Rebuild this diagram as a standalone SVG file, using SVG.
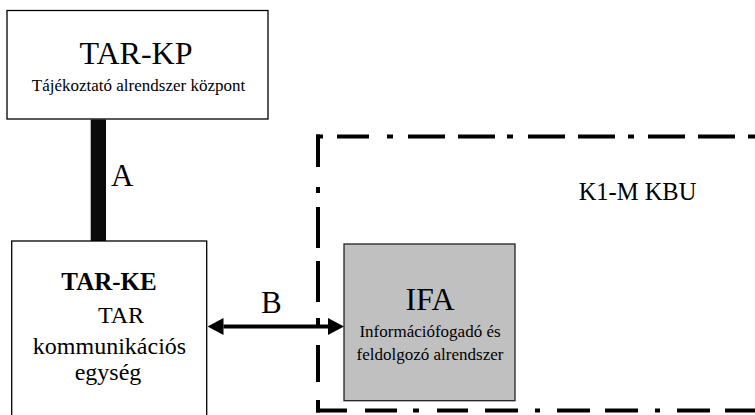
<svg xmlns="http://www.w3.org/2000/svg" width="755" height="415" viewBox="0 0 755 415">
  <style>
    .box { fill: #ffffff; stroke: #000000; stroke-width: 1.3; }
    .gbox { fill: #c0c0c0; stroke: #222222; stroke-width: 1.3; }
    text { font-family: 'Liberation Serif', 'DejaVu Serif', 'Times New Roman', Times, serif; fill: #000000; }
    .mid { text-anchor: middle; }
    .border { fill: none; stroke: #000000; stroke-width: 4; stroke-linecap: butt; }
  </style>
  <defs>
    <marker id="ah" markerUnits="userSpaceOnUse" markerWidth="16" markerHeight="17" refX="0" refY="8.5" orient="auto-start-reverse" viewBox="0 0 16 17">
      <path d="M0,0 L16,8.5 L0,17 Z" fill="#000000"/>
    </marker>
  </defs>
  <rect width="755" height="415" fill="#ffffff"/>

  <g id="node-k1m-kbu">
    <path class="border" d="M316,136.5 H323 M337,136.5 H369 M387,136.5 H393 M408,136.5 H445 M458,136.5 H495 M507,136.5 H513 M528,136.5 H565 M578,136.5 H615 M628,136.5 H634 M648,136.5 H685 M698,136.5 H735 M748,136.5 H755"/>
    <path class="border" d="M318,134.5 V167 M318,187 V193 M318,207 V248 M318,261 V302 M318,318 V325 M318,345 V382 M318,400 V412.5"/>
    <path class="border" d="M316,410.5 H347 M365,410.5 H397 M413,410.5 H419 M437,410.5 H468 M485,410.5 H518 M535,410.5 H540 M557,410.5 H590 M605,410.5 H638 M655,410.5 H660 M677,410.5 H710 M725,410.5 H755"/>
    <text class="mid" x="637.5" y="200" font-size="24.5" font-family="Liberation Serif, serif">K1-M KBU</text>
  </g>

  <g id="connectors">
    <rect id="conn-A" x="90.7" y="119.5" width="15.3" height="121.5" fill="#0a0a0a"/>
    <text x="111" y="186" font-size="31" font-family="Liberation Serif, serif">A</text>
    <line id="conn-B" x1="223.5" y1="326.5" x2="328" y2="326.5" stroke="#000000" stroke-width="4" marker-start="url(#ah)" marker-end="url(#ah)"/>
    <text x="261" y="313" font-size="31" font-family="Liberation Serif, serif">B</text>
  </g>

  <g id="node-tar-kp">
    <rect class="box" x="7" y="10.5" width="261" height="108.5"/>
    <text class="mid" x="136" y="64" font-size="32" font-family="Liberation Serif, serif">TAR-KP</text>
    <text class="mid" x="138.5" y="91" font-size="17" font-family="Liberation Serif, serif">Tájékoztató alrendszer központ</text>
  </g>

  <g id="node-tar-ke">
    <rect class="box" x="11.7" y="241" width="195" height="200"/>
    <text class="mid" x="109" y="290" font-size="25" font-weight="bold" font-family="Liberation Serif, serif">TAR-KE</text>
    <text class="mid" x="121" y="323" font-size="24" font-family="Liberation Serif, serif">TAR</text>
    <text class="mid" x="109.5" y="354" font-size="24" font-family="Liberation Serif, serif">kommunikációs</text>
    <text class="mid" x="108" y="380" font-size="24" font-family="Liberation Serif, serif">egység</text>
  </g>

  <g id="node-ifa">
    <rect class="gbox" x="344" y="244" width="171" height="156.7"/>
    <text class="mid" x="430" y="310" font-size="32" font-family="Liberation Serif, serif">IFA</text>
    <text class="mid" x="430" y="337" font-size="17" font-family="Liberation Serif, serif">Információfogadó és</text>
    <text class="mid" x="430" y="359.5" font-size="17" font-family="Liberation Serif, serif">feldolgozó alrendszer</text>
  </g>
</svg>
